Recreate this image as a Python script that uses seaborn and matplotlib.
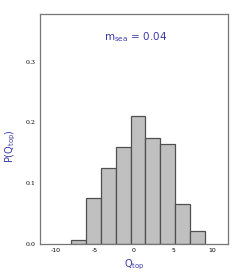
import numpy as np
import matplotlib
matplotlib.use("Agg")
import matplotlib.pyplot as plt
import seaborn as sns

# Data: probability per bin of topological charge
bin_edges = list(np.linspace(-8, 9, 10))
bin_probs = [0.005, 0.075, 0.125, 0.16, 0.21, 0.175, 0.165, 0.065, 0.02]
x_ticks = [-10, -5, 0, 5, 10]
y_ticks = [0.0, 0.1, 0.2, 0.3]
annotation = r"m$_{\rm sea}$ = 0.04"

centers = [(bin_edges[i] + bin_edges[i + 1]) / 2 for i in range(len(bin_probs))]

sns.set_style("white")
plt.rcParams['font.family'] = ['DejaVu Sans']

fig = plt.figure(figsize=(2.4, 2.73), dpi=100)
ax = fig.add_axes([40/240, 1 - 243.5/273, 188/240, 229.5/273])

sns.histplot(x=centers, weights=bin_probs, bins=bin_edges, stat="count",
             color="#c0c0c0", edgecolor="#505050", linewidth=0.9, alpha=1.0, ax=ax)

ax.set_xlim(-12, 12)
ax.set_ylim(0, 0.379)
ax.set_xticks(x_ticks)
ax.set_yticks(y_ticks)
ax.set_xticklabels([str(t) for t in x_ticks], fontsize=4.5)
ax.set_yticklabels([f"{t:.1f}" for t in y_ticks], fontsize=4.5, family="serif")
ax.tick_params(axis="both", direction="out", length=2, width=0.6, pad=1.5, colors="#333333")
ax.tick_params(axis="both", labelcolor="black")
for s in ax.spines.values():
    s.set_color("#777777")
    s.set_linewidth(0.9)

blue = "#3a3aa8"
ax.set_xlabel(r"Q$_{\rm top}$", fontsize=7, color=blue, labelpad=3)
ax.set_ylabel(r"P(Q$_{\rm top}$)", fontsize=7, color=blue)
ax.yaxis.set_label_coords(-0.115, 0.425)
ax.text(0.51, 0.90, annotation, transform=ax.transAxes, ha="center", va="center",
        fontsize=7.5, color=blue)

fig.savefig("out.png", dpi=100)
